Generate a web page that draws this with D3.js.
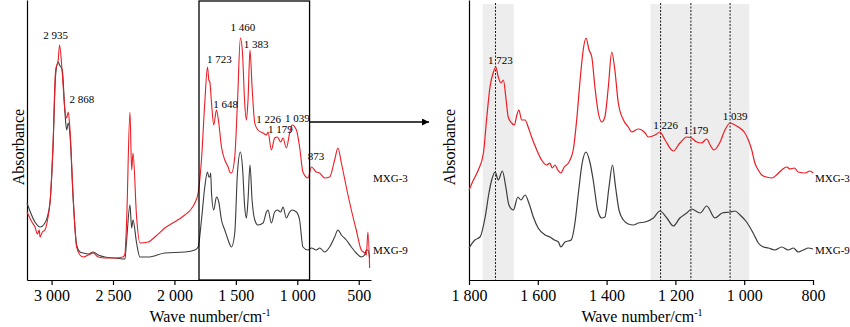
<!DOCTYPE html>
<html>
<head>
<meta charset="utf-8">
<script src="https://cdn.jsdelivr.net/npm/d3@7"></script>
<style>
  body { margin: 0; background: #fff; }
  svg { display: block; font-family: "Liberation Serif", "Times New Roman", serif; }
  .axis path, .axis line { stroke: #000; stroke-width: 1.2; }
  .axis text { font-family: "Liberation Serif", "Times New Roman", serif; font-size: 16px; fill: #000; }
  .peak { font-size: 11px; fill: #000; }
  .name { font-size: 11px; fill: #000; }
  .title { font-size: 16px; fill: #000; }
</style>
</head>
<body>
<script>
// spectra as [wave number, relative absorbance]
var leftRed = [[3200,68],[3160,58],[3135,53],[3115,46],[3100,50],[3094,43],[3075,48],[3054,50],[3030,62],[3013,77],
  [2989,133],[2967,210],[2946,220],[2935,235],[2913,207],[2891,170],[2877,162],[2864,168],[2850,150],[2824,83],
  [2796,33],[2769,25],[2742,23],[2700,25],[2661,27],[2620,23],[2566,22],[2480,22],[2420,23],[2403,26],[2389,60],
  [2362,168],[2348,110],[2337,127],[2308,63],[2281,37],[2214,38],[2150,44],[2078,52],[2000,58],[1960,61],[1916,65],
  [1870,70],[1834,77],[1807,87],[1780,120],[1753,177],[1731,213],[1720,200],[1712,198],[1698,177],[1680,155],
  [1658,170],[1639,157],[1617,133],[1590,120],[1575,116],[1563,113],[1550,108],[1536,107],[1509,123],[1487,177],
  [1463,242],[1446,227],[1428,177],[1414,160],[1401,180],[1385,230],[1368,193],[1346,157],[1320,150],[1279,147],
  [1251,145],[1238,148],[1211,130],[1184,142],[1162,143],[1135,138],[1116,142],[1089,132],[1062,147],[1043,155],
  [1007,150],[981,133],[954,108],[913,102],[885,113],[845,108],[818,107],[777,102],[737,103],[696,120],[669,132],
  [641,117],[601,93],[560,70],[520,50],[479,30],[452,27],[438,25],[425,48],[411,12]];

var leftBlack = [[3200,77],[3135,58],[3094,53],[3054,57],[3013,77],[2989,130],[2967,205],[2946,218],[2935,215],
  [2913,210],[2891,167],[2877,150],[2864,157],[2850,145],[2824,80],[2796,35],[2769,28],[2742,27],[2700,26],
  [2661,28],[2620,25],[2566,23],[2480,22],[2403,21],[2389,40],[2362,75],[2348,52],[2337,60],[2308,37],[2281,23],
  [2214,23],[2078,27],[1916,28],[1834,30],[1807,33],[1780,60],[1753,93],[1731,108],[1720,103],[1712,103],
  [1705,107],[1698,87],[1680,70],[1658,83],[1639,78],[1617,60],[1590,50],[1563,40],[1536,33],[1509,47],
  [1487,107],[1463,128],[1446,113],[1428,73],[1414,62],[1401,80],[1385,115],[1368,80],[1346,60],[1320,55],
  [1279,57],[1251,68],[1238,70],[1211,57],[1184,68],[1162,70],[1135,68],[1116,73],[1089,62],[1062,68],[1043,70],
  [1007,68],[981,60],[954,33],[913,30],[885,32],[845,30],[818,32],[777,28],[737,33],[696,43],[669,50],[641,45],
  [601,40],[560,33],[520,27],[479,23],[452,25],[438,30],[425,30],[411,22]];

var rightRed = [[1800,90],[1787,100],[1773,110],[1758,127],[1749,160],[1739,193],[1729,208],[1722,213],[1715,203],
  [1707,197],[1700,200],[1693,183],[1686,163],[1676,157],[1668,155],[1661,165],[1655,170],[1647,160],[1637,160],
  [1628,153],[1618,143],[1603,130],[1589,120],[1574,115],[1565,117],[1558,112],[1550,115],[1542,110],[1533,107],
  [1523,113],[1511,117],[1497,130],[1487,160],[1477,200],[1468,230],[1460,242],[1451,230],[1443,223],[1434,193],
  [1424,167],[1414,158],[1405,163],[1395,193],[1385,228],[1376,210],[1366,177],[1351,160],[1337,153],[1327,148],
  [1308,151],[1288,147],[1279,143],[1259,145],[1245,148],[1230,140],[1206,129],[1187,137],[1167,143],[1153,142],
  [1138,138],[1124,137],[1109,141],[1099,135],[1088,130],[1070,138],[1056,150],[1041,157],[1027,155],[1009,151],
  [1000,148],[988,140],[978,130],[969,117],[959,110],[949,105],[935,103],[920,102],[906,105],[891,110],[876,113],
  [867,111],[854,112],[843,108],[823,107],[809,109],[800,107]];

var rightBlack = [[1800,32],[1783,40],[1768,43],[1753,63],[1742,87],[1734,100],[1724,108],[1715,100],[1703,109],
  [1693,93],[1684,75],[1671,70],[1658,83],[1649,80],[1637,85],[1626,77],[1613,63],[1599,52],[1579,45],[1565,43],
  [1552,40],[1540,38],[1533,33],[1521,38],[1503,40],[1492,57],[1482,87],[1471,117],[1460,128],[1448,117],
  [1439,100],[1426,70],[1414,62],[1405,63],[1393,93],[1383,115],[1374,93],[1364,70],[1351,60],[1337,56],
  [1322,55],[1308,57],[1288,58],[1264,62],[1245,69],[1225,62],[1206,54],[1187,62],[1167,67],[1153,71],[1128,67],
  [1109,74],[1085,62],[1064,67],[1041,68],[1027,69],[1012,65],[993,58],[974,47],[959,37],[944,33],[930,32],
  [911,30],[891,33],[872,30],[857,32],[843,28],[828,30],[814,32],[800,31]];

var seriesNames = ["MXG-3", "MXG-9"];
var leftTicks = [3000, 2500, 2000, 1500, 1000, 500];
var rightTicks = [1800, 1600, 1400, 1200, 1000, 800];
var zoomRange = [1800, 900];
var bands = [[1760, 1670], [1272, 985]];
var markLines = [1723, 1243, 1155, 1041];
var markLabels = [1723, 1226, 1179, 1039];
var leftPeaks = [2935, 2868, 1723, 1648, 1460, 1383, 1226, 1179, 1039, 873];

var red = "#ec1c24", dark = "#3c3c3c";
var fmt = d3.formatLocale({decimal: ".", thousands: " ", grouping: [3], currency: ["", ""]}).format(",");

var svg = d3.select("body").append("svg")
    .attr("width", 850)
    .attr("height", 327);

var xL = d3.scaleLinear().domain([3200, 400]).range([27, 371]);
var xR = d3.scaleLinear().domain([1800, 800]).range([469, 813]);
var y = d3.scaleLinear().domain([0, 280]).range([280, 0]);

function lineFor(x) {
  return d3.line()
    .x(function(d) { return x(d[0]); })
    .y(function(d) { return y(d[1]); })
    .curve(d3.curveMonotoneX);
}

// highest point of a curve near a wave number, for placing the labels
function localMax(data, w) {
  return d3.max(data.filter(function(d) { return Math.abs(d[0] - w) <= 12; }), function(d) { return d[1]; });
}

// ---- left panel ----
svg.append("g")
    .attr("class", "axis")
    .attr("transform", "translate(0," + y(0) + ")")
    .call(d3.axisBottom(xL).tickValues(leftTicks).tickFormat(fmt).tickSize(5).tickSizeOuter(0).tickPadding(5));

svg.append("g")
    .attr("class", "axis")
    .attr("transform", "translate(" + xL.range()[0] + ",0)")
    .call(d3.axisLeft(y).tickValues([]).tickSizeOuter(0));

svg.append("path").datum(leftBlack)
    .attr("fill", "none").attr("stroke", dark).attr("stroke-width", 1.1)
    .attr("d", lineFor(xL));

svg.append("path").datum(leftRed)
    .attr("fill", "none").attr("stroke", red).attr("stroke-width", 1.1)
    .attr("d", lineFor(xL));

// zoom box + arrow
svg.append("rect")
    .attr("x", xL(zoomRange[0]))
    .attr("y", 1)
    .attr("width", xL(zoomRange[1]) - xL(zoomRange[0]))
    .attr("height", y(0) - 1)
    .attr("fill", "none")
    .attr("stroke", "#000")
    .attr("stroke-width", 1.3);

svg.append("defs").append("marker")
    .attr("id", "arrow")
    .attr("viewBox", "0 0 10 10")
    .attr("refX", 10).attr("refY", 5)
    .attr("markerWidth", 8).attr("markerHeight", 7)
    .attr("markerUnits", "userSpaceOnUse")
    .attr("orient", "auto")
  .append("path")
    .attr("d", "M0,0L10,5L0,10z")
    .attr("fill", "#000");

svg.append("line")
    .attr("x1", xL(zoomRange[1])).attr("x2", xR.range()[0] - 40)
    .attr("y1", 122).attr("y2", 122)
    .attr("stroke", "#000").attr("stroke-width", 1.3)
    .attr("marker-end", "url(#arrow)");

var leftNudge = {2935: [-4, -6], 2868: [14, -9], 1723: [11, -4], 1648: [8, -2], 1460: [2, -7],
                 1383: [6, -2], 1226: [-1, -9], 1179: [5, -5], 1039: [5, -3], 873: [3, -7]};

svg.selectAll(".peakL")
    .data(leftPeaks)
    .enter().append("text")
    .attr("class", "peak")
    .attr("text-anchor", "middle")
    .attr("x", function(d) { return xL(d) + leftNudge[d][0]; })
    .attr("y", function(d) { return y(localMax(leftRed, d)) + leftNudge[d][1]; })
    .text(function(d) { return fmt(d); });

svg.append("text").attr("class", "title")
    .attr("text-anchor", "middle")
    .attr("transform", "translate(24,147) rotate(-90)")
    .text("Absorbance");

var titleL = svg.append("text").attr("class", "title")
    .attr("text-anchor", "middle")
    .attr("x", 210).attr("y", 322);
titleL.append("tspan").text("Wave number/cm");
titleL.append("tspan").attr("dy", -6).attr("font-size", "10px").text("-1");

// ---- right panel ----
svg.selectAll(".band")
    .data(bands)
    .enter().append("rect")
    .attr("x", function(d) { return xR(d[0]); })
    .attr("width", function(d) { return xR(d[1]) - xR(d[0]); })
    .attr("y", 4)
    .attr("height", y(0) - 4)
    .attr("fill", "#ededed");

svg.selectAll(".mark")
    .data(markLines)
    .enter().append("line")
    .attr("x1", function(d) { return xR(d); })
    .attr("x2", function(d) { return xR(d); })
    .attr("y1", 3).attr("y2", y(0))
    .attr("stroke", "#000")
    .attr("stroke-width", 0.9)
    .attr("stroke-dasharray", "2,1.5");

svg.append("g")
    .attr("class", "axis")
    .attr("transform", "translate(0," + y(0) + ")")
    .call(d3.axisBottom(xR).tickValues(rightTicks).tickFormat(fmt).tickSize(5).tickSizeOuter(0).tickPadding(5));

svg.append("g")
    .attr("class", "axis")
    .attr("transform", "translate(" + xR.range()[0] + ",0)")
    .call(d3.axisLeft(y).tickValues([]).tickSizeOuter(0));

svg.append("path").datum(rightBlack)
    .attr("fill", "none").attr("stroke", dark).attr("stroke-width", 1.2)
    .attr("d", lineFor(xR));

svg.append("path").datum(rightRed)
    .attr("fill", "none").attr("stroke", red).attr("stroke-width", 1.2)
    .attr("d", lineFor(xR));

svg.selectAll(".peakR")
    .data(markLines)
    .enter().append("text")
    .attr("class", "peak")
    .attr("text-anchor", "middle")
    .attr("x", function(d) { return xR(d) + 5; })
    .attr("y", function(d) { return y(localMax(rightRed, d)) - 3; })
    .text(function(d, i) { return fmt(markLabels[i]); });

svg.append("text").attr("class", "title")
    .attr("text-anchor", "middle")
    .attr("transform", "translate(455,147) rotate(-90)")
    .text("Absorbance");

var titleR = svg.append("text").attr("class", "title")
    .attr("text-anchor", "middle")
    .attr("x", 642).attr("y", 322);
titleR.append("tspan").text("Wave number/cm");
titleR.append("tspan").attr("dy", -6).attr("font-size", "10px").text("-1");

// series names at the right end of each panel
[xL, xR].forEach(function(x) {
  svg.selectAll(null)
      .data(seriesNames)
      .enter().append("text")
      .attr("class", "name")
      .attr("x", x.range()[1] + 2)
      .attr("y", function(d, i) { return i === 0 ? 182 : 254; })
      .text(function(d) { return d; });
});
</script>
</body>
</html>
